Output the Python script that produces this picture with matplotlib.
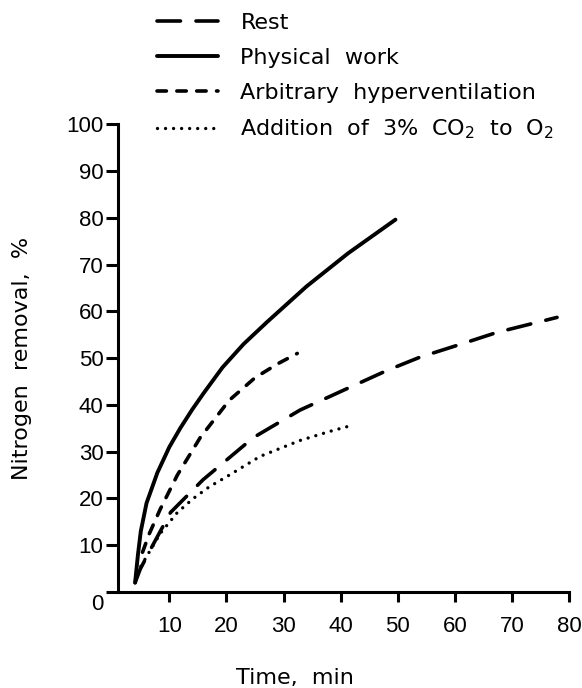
import matplotlib
matplotlib.use("Agg")
import matplotlib.pyplot as plt
from matplotlib.transforms import ScaledTranslation

plt.rcParams['font.family'] = ['DejaVu Sans']
plt.rcParams['mathtext.fontset'] = 'dejavusans'

# data (time in min, nitrogen removal in %)
rest_t = [4.0, 4.9, 7.0, 10.2, 15.9, 20.1, 24.7, 32.9, 41.7, 48.2, 53.9, 60.6, 67.4, 77.9]
rest_n = [2.0, 4.9, 9.8, 17.0, 24.0, 28.3, 33.0, 38.9, 43.8, 47.4, 50.2, 52.8, 55.5, 58.7]

work_t = [4.0, 4.5, 5.0, 6.0, 7.9, 10.0, 11.9, 14.0, 16.0, 19.3, 23.0, 27.1, 34.0, 41.3, 49.6]
work_n = [2.0, 8.0, 13.0, 19.0, 25.5, 31.0, 35.0, 39.0, 42.5, 48.0, 53.0, 57.7, 65.3, 72.4, 79.6]

hyper_t = [5.3, 6.5, 8.4, 11.4, 15.4, 20.5, 25.0, 29.0, 32.4]
hyper_n = [8.5, 12.5, 17.7, 25.0, 33.0, 41.0, 45.8, 48.8, 51.0]

co2_t = [5.0, 8.4, 11.4, 14.2, 17.0, 20.1, 25.9, 32.9, 38.0, 42.2]
co2_n = [5.5, 12.5, 17.0, 20.0, 22.5, 24.7, 29.0, 32.4, 34.3, 35.7]

labels = ['Rest', 'Physical  work', 'Arbitrary  hyperventilation',
          r'Addition  of  3%  CO$_2$  to  O$_2$']
xticks = [10, 20, 30, 40, 50, 60, 70, 80]
yticks = [0, 10, 20, 30, 40, 50, 60, 70, 80, 90, 100]

fig = plt.figure(figsize=(5.82, 6.88), dpi=100)
ax = fig.add_axes([0.2027, 0.1395, 0.775, 0.680])

l1, = ax.plot(rest_t, rest_n, color='black', lw=2.6,
              linestyle=(0, (6.5, 4.3)), dash_capstyle='round')
l2, = ax.plot(work_t, work_n, color='black', lw=2.8, solid_capstyle='round')
l3, = ax.plot(hyper_t, hyper_n, color='black', lw=2.6,
              linestyle=(0, (2.6, 2.9)), dash_capstyle='round')
l4, = ax.plot(co2_t, co2_n, color='black', lw=2.4,
              linestyle=(0, (0.01, 2.4)), dash_capstyle='round')

ax.set_xlim(1.0, 80)
ax.set_ylim(0, 100)
ax.set_xticks(xticks)
ax.set_yticks(yticks)

for s in ['top', 'right']:
    ax.spines[s].set_visible(False)
for s in ['left', 'bottom']:
    ax.spines[s].set_linewidth(2.2)

ax.tick_params(axis='x', direction='out', length=7.5, width=2.2, pad=10,
               labelsize=16, labelfontfamily='Liberation Sans')
ax.tick_params(axis='y', direction='out', length=8.5, width=2.2, pad=2,
               labelsize=16, labelfontfamily='Liberation Sans')

# the zero label sits a bit below the axis in the original
lbl0 = ax.get_yticklabels()[0]
lbl0.set_transform(lbl0.get_transform() + ScaledTranslation(0, -7 / 72, fig.dpi_scale_trans))

ax.set_xlabel('Time,  min', fontsize=16)
ax.xaxis.set_label_coords(0.392, -0.162)
ax.set_ylabel('Nitrogen  removal,  %', fontsize=16)
ax.yaxis.set_label_coords(-0.19, 0.5)

fig.legend([l1, l2, l3, l4], labels, loc='upper left',
           bbox_to_anchor=(0.27, 0.981), frameon=False, fontsize=16,
           handlelength=2.75, handletextpad=1.0, labelspacing=0.67,
           borderpad=0, borderaxespad=0)

fig.savefig('out.png', dpi=100)
